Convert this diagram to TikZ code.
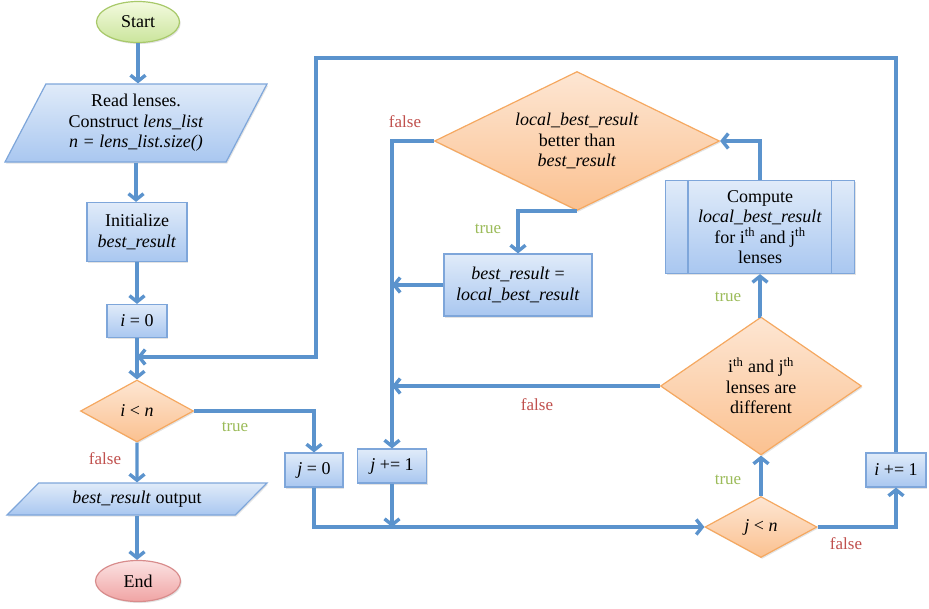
\documentclass[tikz,border=0pt]{standalone}
\usepackage{fontspec}
\setmainfont{Liberation Serif}
\usetikzlibrary{shapes.geometric,arrows.meta,shadows}

\definecolor{flow}{HTML}{5B93CD}
\definecolor{boxedge}{HTML}{7EA6DA}
\definecolor{boxtop}{HTML}{E0EBF9}
\definecolor{boxbot}{HTML}{A9C7F0}
\definecolor{decedge}{HTML}{F5A860}
\definecolor{dectop}{HTML}{FDE6D3}
\definecolor{decbot}{HTML}{FBC190}
\definecolor{startedge}{HTML}{A8C96A}
\definecolor{starttop}{HTML}{F3FADF}
\definecolor{startbot}{HTML}{CBE59C}
\definecolor{endedge}{HTML}{D88C8C}
\definecolor{endtop}{HTML}{FBE2E2}
\definecolor{endbot}{HTML}{F0A4A4}
\definecolor{yescol}{HTML}{9BBB59}
\definecolor{nocol}{HTML}{C0504D}

\begin{document}
\begin{tikzpicture}[x=1pt,y=-1pt,
  font=\fontsize{18}{20.5}\selectfont,
  base/.style={inner sep=2pt, align=center, line width=1.2pt,
    drop shadow={opacity=0.22, shadow xshift=1.2pt, shadow yshift=-1.5pt}},
  proc/.style={base, rectangle, draw=boxedge, top color=boxtop, bottom color=boxbot},
  io/.style={proc, trapezium, trapezium stretches body},
  dec/.style={base, diamond, inner sep=0pt, draw=decedge, top color=dectop, bottom color=decbot},
  term/.style={base, ellipse, inner sep=0pt},
  dectext/.style={align=center, font=\fontsize{18}{20.5}\selectfont},
  arr/.style={draw=flow, line width=3.4pt, -{Straight Barb[length=6pt,width=15pt]}},
  yes/.style={text=yescol, font=\fontsize{17}{19}\selectfont},
  no/.style={text=nocol, font=\fontsize{17}{19}\selectfont}]
\useasboundingbox (0,0) rectangle (929,608);

% ---- outer loop (left column) ----
\node[term, draw=startedge, top color=starttop, bottom color=startbot,
  minimum width=83, minimum height=41] (start) at (138,22) {Start};
\node[io, trapezium left angle=56.3, trapezium right angle=123.7,
  minimum width=262, minimum height=78] (read) at (136,123)
  {Read lenses.\\ Construct \textit{lens\_list}\\ \textit{n = lens\_list.size()}};
\node[proc, minimum width=100, minimum height=59] (init) at (137,232)
  {Initialize\\ \textit{best\_result}};
\node[proc, minimum width=60, minimum height=33] (izero) at (137,321) {\textit{i} = 0};
\node[dec, minimum width=113, minimum height=62,
  label={[dectext]center:{\textit{i} < \textit{n}}}] (ilt) at (137,411) {};
\node[io, trapezium left angle=32.6, trapezium right angle=147.4,
  minimum width=260, minimum height=32] (out) at (137,499)
  {\textit{best\_result} output};
\node[term, draw=endedge, top color=endtop, bottom color=endbot,
  minimum width=85, minimum height=41] (end) at (138,581) {End};

% ---- inner loop ----
\node[proc, minimum width=58, minimum height=34] (jzero) at (314,470) {\textit{j} = 0};
\node[proc, minimum width=69, minimum height=34] (jinc) at (392,466) {\textit{j} += 1};
\node[dec, minimum width=112, minimum height=61,
  label={[dectext]center:{\textit{j} < \textit{n}}}] (jlt) at (761,527) {};
\node[dec, minimum width=201, minimum height=138,
  label={[dectext]center:{i\textsuperscript{th} and j\textsuperscript{th}\\ lenses are\\ different}}]
  (diff) at (761,386) {};
\node[proc, minimum width=189, minimum height=93] (comp) at (760,227)
  {Compute\\ \textit{local\_best\_result}\\ for i\textsuperscript{th} and j\textsuperscript{th}\\ lenses};
\draw[boxedge, line width=1.2pt] ([xshift=23pt]comp.north west) -- ([xshift=23pt]comp.south west);
\draw[boxedge, line width=1.2pt] ([xshift=-24pt]comp.north east) -- ([xshift=-24pt]comp.south east);
\node[dec, minimum width=285, minimum height=139,
  label={[dectext]center:{\textit{local\_best\_result}\\ better than\\ \textit{best\_result}}}]
  (better) at (577,141) {};
\node[proc, minimum width=148, minimum height=62] (upd) at (518,285)
  {\textit{best\_result} =\\ \textit{local\_best\_result}};
\node[proc, minimum width=60, minimum height=34] (iinc) at (896,470) {\textit{i} += 1};

% ---- loop return points ----
\coordinate (loopcorner) at (316,58);
\coordinate (merge) at (137,357);

% ---- connectors ----
\draw[arr] (start.south) -- (start.south |- read.north);
\draw[arr] (read.south) -- (read.south |- init.north);
\draw[arr] (init.south) -- (izero.north);
\draw[arr] (izero.south) -- (ilt.north);
\draw[arr] (ilt.south) -- (out.north);
\draw[arr] (out.south) -- (out.south |- end.north);
\draw[arr] (ilt.east) -| (jzero.north);
\draw[arr] (jzero.south) |- (jlt.west);
\draw[arr] (jinc.south) -- (jinc.south |- jlt.west);
\draw[arr] (jlt.north) -- (diff.south);
\draw[arr] (diff.north) -- (comp.south |- diff.north) -- (comp.south);
\draw[arr] (comp.north) |- (better.east);
\draw[arr] (better.south) -| (upd.north);
\draw[arr] (better.west) -| (jinc.north);
\draw[arr] (upd.west) -- (jinc.north |- upd.west);
\draw[arr] (diff.west) -- (jinc.north |- diff.west);
\draw[arr] (jlt.east) -| (iinc.south);
\draw[arr] (iinc.north) |- (loopcorner) |- (merge);

% ---- branch labels ----
\node[no] at (105,459) {false};
\node[yes] at (235,427) {true};
\node[no] at (405,122) {false};
\node[yes] at (488,229) {true};
\node[no] at (537,405) {false};
\node[yes] at (728,297) {true};
\node[yes] at (728,480) {true};
\node[no] at (846,544) {false};
\end{tikzpicture}
\end{document}
